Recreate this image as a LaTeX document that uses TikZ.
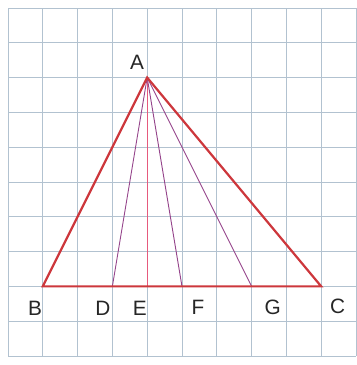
\documentclass[tikz,border=0pt]{standalone}
\usepackage{fontspec}
\setmainfont{Liberation Sans}
\usetikzlibrary{calc}
\definecolor{gridblue}{RGB}{178,194,208}
\definecolor{sidered}{RGB}{205,55,60}
\definecolor{rayviolet}{RGB}{150,70,140}
\definecolor{raypink}{RGB}{230,90,125}
\tikzset{
    gridline/.style = {draw=gridblue, line width=0.6pt},
    side/.style     = {draw=sidered, line width=1.8pt, line join=miter},
    ray/.style      = {draw=rayviolet, line width=0.75pt},
    midray/.style   = {draw=raypink, line width=1.1pt},
    ptlabel/.style  = {inner sep=0pt, font=\fontsize{17}{18}\selectfont, text=black!85}
}

\begin{document}
\begin{tikzpicture}
        \useasboundingbox (-0.23,-0.26) rectangle (10.03,10.23);

        % Squared paper
        \draw[gridline] (0,0) grid (10,10);

        % Vertices and points on BC
        \coordinate (A) at (4,8);
        \coordinate (B) at (1,2);
        \coordinate (C) at (9,2);
        \coordinate (D) at (3,2);
        \coordinate (E) at (4,2);
        \coordinate (F) at (5,2);
        \coordinate (G) at (7,2);

        % Segments from A
        \draw[ray] (A) -- (D);
        \draw[midray] (A) -- (E);
        \draw[ray] (A) -- (F);
        \draw[ray] (A) -- (G);

        % Triangle
        \draw[side] (A) -- (B) -- (C) -- cycle;

        % Labels
        \node[ptlabel] (lA) at (3.71,8.45) {A};
        \node[ptlabel] (lB) at (0.78,1.38) {B};
        \node[ptlabel] (lD) at (2.73,1.38) {D};
        \node[ptlabel] (lE) at (3.79,1.38) {E};
        \node[ptlabel] (lF) at (5.46,1.40) {F};
        \node[ptlabel] (lG) at (7.61,1.40) {G};
        \node[ptlabel] (lC) at (9.47,1.43) {C};

    \end{tikzpicture}
\end{document}
